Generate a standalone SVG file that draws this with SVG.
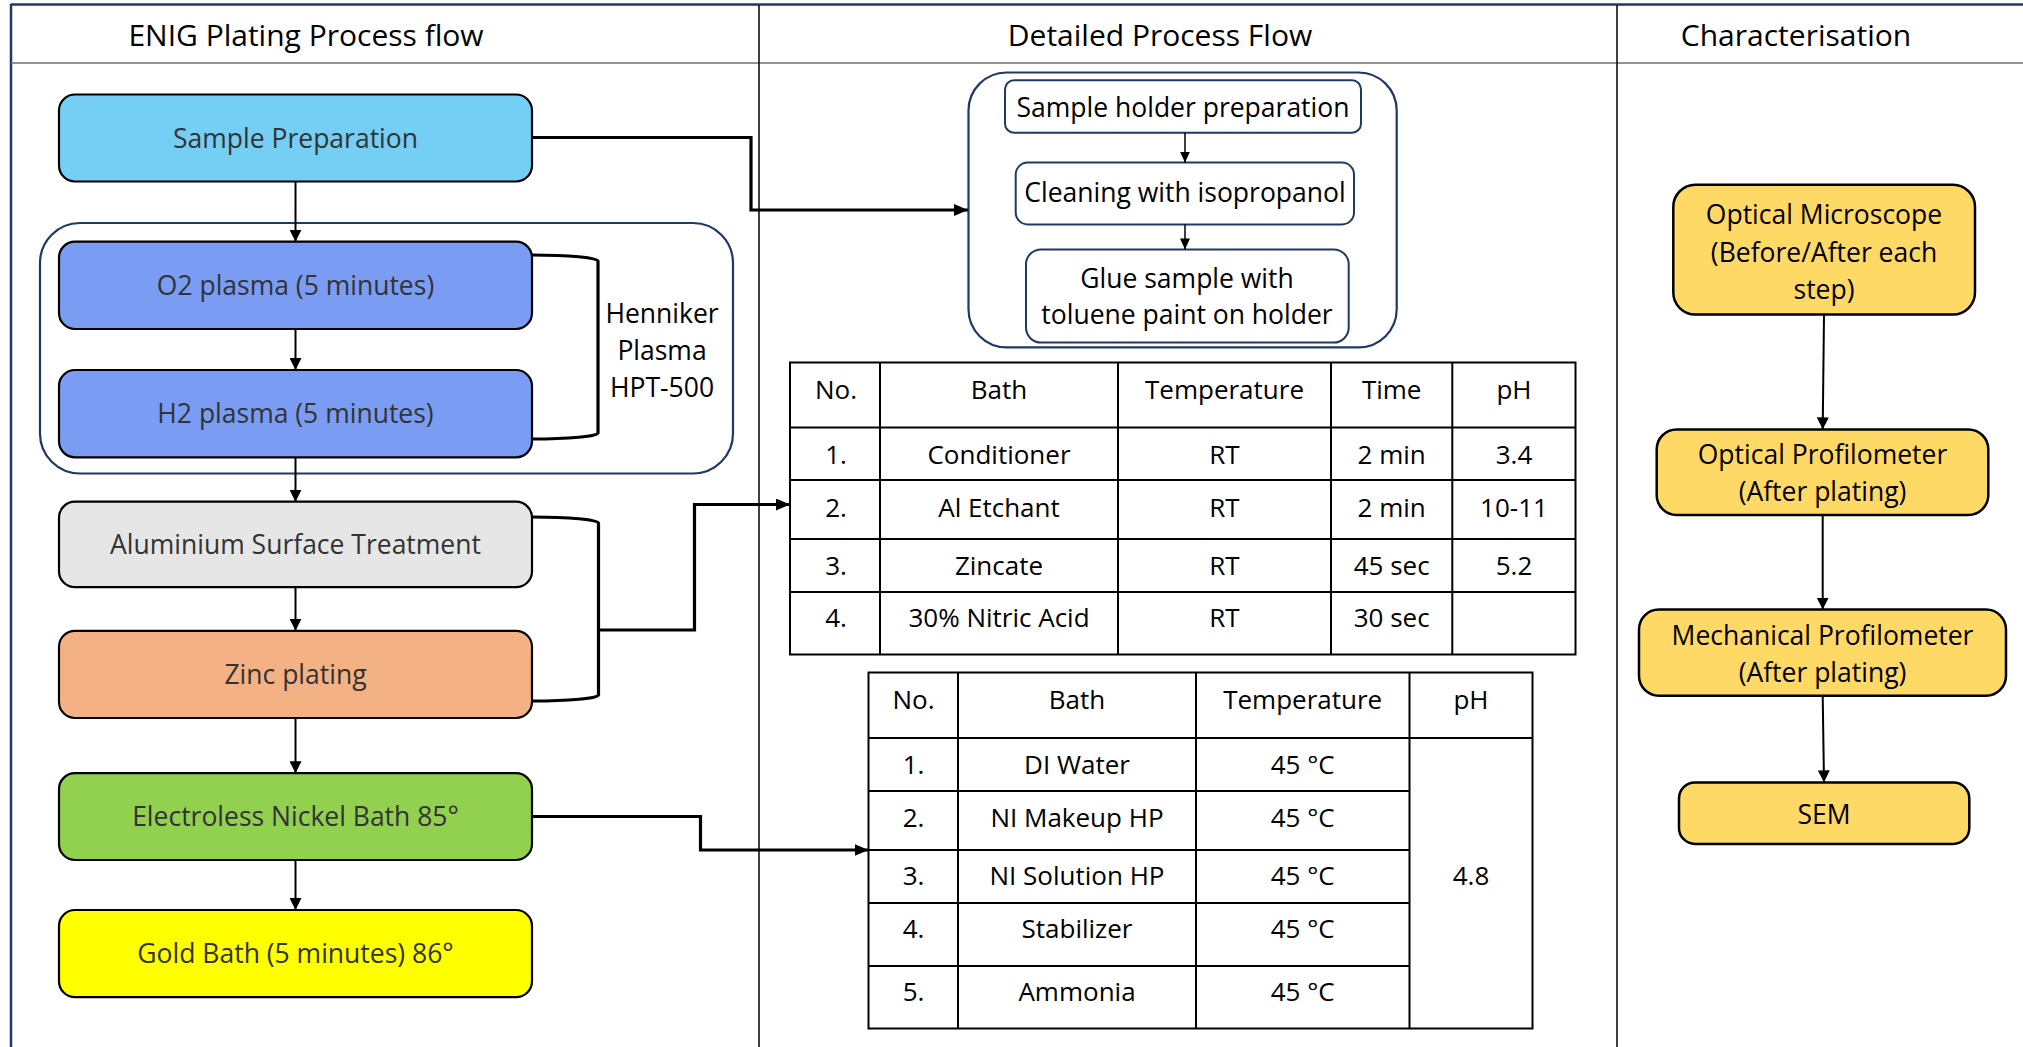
<svg xmlns="http://www.w3.org/2000/svg" width="2023" height="1047" viewBox="0 0 2023 1047">
<defs>
<style>
text{font-family:"Open Sans","Liberation Sans",sans-serif;text-anchor:middle;fill:#000}
.hd{font-size:30px}
.bx{font-size:26.5px;fill:#333}
.tb{font-size:26px}
.sm{font-size:26.5px}
.ch{font-size:26.5px}
.step{stroke:#000;stroke-width:2.2}
.grp{fill:none;stroke:#203864;stroke-width:2.2}
.dbox{fill:#fff;stroke:#203864;stroke-width:2}
.cbox{fill:#FFD966;stroke:#000;stroke-width:2.5}
.ln{fill:none;stroke:#000;stroke-width:2}
.thick{fill:none;stroke:#000;stroke-width:3.2}
.thin{fill:none;stroke:#000;stroke-width:1.5}
.grid{fill:none;stroke:#000;stroke-width:2}
</style>
<marker id="ah" viewBox="0 0 12 12" refX="12" refY="6" markerWidth="12" markerHeight="12" markerUnits="userSpaceOnUse" orient="auto"><path d="M0,0 L12,6 L0,12 z" fill="#000"/></marker>
<marker id="ahb" viewBox="0 0 14 12" refX="14" refY="6" markerWidth="14" markerHeight="12" markerUnits="userSpaceOnUse" orient="auto"><path d="M0,0 L14,6 L0,12 z" fill="#000"/></marker>
<marker id="ahs" viewBox="0 0 11 10" refX="11" refY="5" markerWidth="11" markerHeight="10" markerUnits="userSpaceOnUse" orient="auto"><path d="M0,0 L11,5 L0,10 z" fill="#000"/></marker>
</defs>
<rect width="2023" height="1047" fill="#fff"/>

<g id="frame">
<line x1="11" y1="4.5" x2="2023" y2="4.5" stroke="#203864" stroke-width="2.5"/>
<line x1="11" y1="4" x2="11" y2="1047" stroke="#203864" stroke-width="2.5"/>
<line x1="11" y1="63" x2="2023" y2="63" stroke="#6F6F6F" stroke-width="1.6"/>
<line x1="759" y1="5" x2="759" y2="1047" stroke="#000" stroke-width="1.5"/>
<line x1="1617" y1="5" x2="1617" y2="1047" stroke="#000" stroke-width="1.5"/>
<text class="hd" x="306" y="46">ENIG Plating Process flow</text>
<text class="hd" x="1160" y="46">Detailed Process Flow</text>
<text class="hd" x="1796" y="46">Characterisation</text>
</g>

<g id="plasma-group">
<rect class="grp" x="40" y="223" width="693" height="250.5" rx="40"/>
<text class="sm" x="662" y="323">Henniker</text>
<text class="sm" x="662" y="360">Plasma</text>
<text class="sm" x="662" y="397">HPT-500</text>
</g>

<g id="sample-preparation"><rect class="step" x="59" y="94.5" width="473" height="87" rx="16" fill="#75CEF3"/><text class="bx" x="295.5" y="147.5">Sample Preparation</text></g>
<g id="o2-plasma"><rect class="step" x="59" y="241.7" width="473" height="87.3" rx="16" fill="#7A9CF2"/><text class="bx" x="295.5" y="295">O2 plasma (5 minutes)</text></g>
<g id="h2-plasma"><rect class="step" x="59" y="370" width="473" height="87.3" rx="16" fill="#7A9CF2"/><text class="bx" x="295.5" y="423">H2 plasma (5 minutes)</text></g>
<g id="aluminium"><rect class="step" x="59" y="501.7" width="473" height="85.5" rx="16" fill="#E6E6E6"/><text class="bx" x="295.5" y="554">Aluminium Surface Treatment</text></g>
<g id="zinc"><rect class="step" x="59" y="630.8" width="473" height="87.2" rx="16" fill="#F4B183"/><text class="bx" x="295.5" y="684">Zinc plating</text></g>
<g id="nickel"><rect class="step" x="59" y="773.2" width="473" height="86.8" rx="16" fill="#92D050"/><text class="bx" x="295.5" y="826">Electroless Nickel Bath 85°</text></g>
<g id="gold"><rect class="step" x="59" y="910" width="473" height="87.2" rx="16" fill="#FFFF00"/><text class="bx" x="295.5" y="963">Gold Bath (5 minutes) 86°</text></g>

<g id="detailed-group">
<rect class="grp" x="968.5" y="72.5" width="428.2" height="274.8" rx="38"/>
</g>
<g id="holder-prep"><rect class="dbox" x="1005" y="80.3" width="356" height="52.4" rx="9"/><text class="sm" x="1183" y="116.5">Sample holder preparation</text></g>
<g id="cleaning"><rect class="dbox" x="1015.7" y="162.6" width="338.3" height="61.8" rx="12"/><text class="sm" x="1185" y="202">Cleaning with isopropanol</text></g>
<g id="glue"><rect class="dbox" x="1026" y="249.4" width="322.7" height="93.2" rx="15"/><text class="sm" x="1187" y="287.5">Glue sample with</text><text class="sm" x="1187" y="324">toluene paint on holder</text></g>

<g id="table-1">
<rect class="grid" x="790" y="362.5" width="785.5" height="292"/>
<path class="grid" d="M880,362.5V654.5 M1118,362.5V654.5 M1331,362.5V654.5 M1452.3,362.5V654.5 M790,427.5H1575.5 M790,480H1575.5 M790,539H1575.5 M790,592H1575.5"/>
<g class="tb">
<text x="836" y="398.5">No.</text><text x="999" y="398.5">Bath</text><text x="1224.5" y="398.5">Temperature</text><text x="1391.7" y="398.5">Time</text><text x="1514" y="398.5">pH</text>
<text x="836" y="463.5">1.</text><text x="999" y="463.5">Conditioner</text><text x="1224.5" y="463.5">RT</text><text x="1391.7" y="463.5">2 min</text><text x="1514" y="463.5">3.4</text>
<text x="836" y="517">2.</text><text x="999" y="517">Al Etchant</text><text x="1224.5" y="517">RT</text><text x="1391.7" y="517">2 min</text><text x="1514" y="517">10-11</text>
<text x="836" y="574.5">3.</text><text x="999" y="574.5">Zincate</text><text x="1224.5" y="574.5">RT</text><text x="1391.7" y="574.5">45 sec</text><text x="1514" y="574.5">5.2</text>
<text x="836" y="627">4.</text><text x="999" y="627">30% Nitric Acid</text><text x="1224.5" y="627">RT</text><text x="1391.7" y="627">30 sec</text>
</g>
</g>

<g id="table-2">
<rect class="grid" x="868.5" y="672.5" width="664" height="356"/>
<path class="grid" d="M958,672.5V1028.5 M1196,672.5V1028.5 M1409.5,672.5V1028.5 M868.5,738H1532.5 M868.5,791H1409.5 M868.5,850H1409.5 M868.5,903H1409.5 M868.5,966H1409.5"/>
<g class="tb">
<text x="913.5" y="709">No.</text><text x="1077" y="709">Bath</text><text x="1302.7" y="709">Temperature</text><text x="1471" y="709">pH</text>
<text x="913.5" y="773.5">1.</text><text x="1077" y="773.5">DI Water</text><text x="1302.7" y="773.5">45 °C</text>
<text x="913.5" y="826.5">2.</text><text x="1077" y="826.5">NI Makeup HP</text><text x="1302.7" y="826.5">45 °C</text>
<text x="913.5" y="885">3.</text><text x="1077" y="885">NI Solution HP</text><text x="1302.7" y="885">45 °C</text>
<text x="913.5" y="937.5">4.</text><text x="1077" y="937.5">Stabilizer</text><text x="1302.7" y="937.5">45 °C</text>
<text x="913.5" y="1001">5.</text><text x="1077" y="1001">Ammonia</text><text x="1302.7" y="1001">45 °C</text>
<text x="1471" y="885">4.8</text>
</g>
</g>

<g id="optical-microscope"><rect class="cbox" x="1673.3" y="184.8" width="301.7" height="129.8" rx="22"/><text class="ch" x="1824" y="223.5">Optical Microscope</text><text class="ch" x="1824" y="261.5">(Before/After each</text><text class="ch" x="1824" y="299">step)</text></g>
<g id="optical-profilometer"><rect class="cbox" x="1656.7" y="429.4" width="331.6" height="85.6" rx="20"/><text class="ch" x="1822.5" y="464">Optical Profilometer</text><text class="ch" x="1822.5" y="501">(After plating)</text></g>
<g id="mechanical-profilometer"><rect class="cbox" x="1639" y="609.6" width="367" height="86.2" rx="20"/><text class="ch" x="1822.5" y="645">Mechanical Profilometer</text><text class="ch" x="1822.5" y="682">(After plating)</text></g>
<g id="sem"><rect class="cbox" x="1679" y="782.4" width="290.3" height="61.5" rx="16"/><text class="ch" x="1824" y="823.5">SEM</text></g>

<g id="connectors">
<line class="ln" x1="295.5" y1="181.5" x2="295.5" y2="241.7" marker-end="url(#ah)"/>
<line class="ln" x1="295.5" y1="329" x2="295.5" y2="370" marker-end="url(#ah)"/>
<line class="ln" x1="295.5" y1="457.3" x2="295.5" y2="501.7" marker-end="url(#ah)"/>
<line class="ln" x1="295.5" y1="587.2" x2="295.5" y2="630.8" marker-end="url(#ah)"/>
<line class="ln" x1="295.5" y1="718" x2="295.5" y2="773.2" marker-end="url(#ah)"/>
<line class="ln" x1="295.5" y1="860" x2="295.5" y2="910" marker-end="url(#ah)"/>
<path class="thick" d="M532,255 A66,6 0 0 1 598,261 V433 A66,6 0 0 1 532,439"/>
<path class="thick" d="M532,517 A66,6 0 0 1 598.5,523 V695 A66,6 0 0 1 532,701"/>
<path class="thick" d="M532,137.5 H751 V210 H968" marker-end="url(#ahb)"/>
<path class="thick" d="M598.5,630 H694.5 V504.5 H790" marker-end="url(#ahb)"/>
<path class="thick" d="M532,816.5 H700.5 V850 H868.5" marker-end="url(#ahb)"/>
<line class="thin" x1="1185" y1="132.7" x2="1185" y2="162.6" marker-end="url(#ahs)"/>
<line class="thin" x1="1185" y1="224.4" x2="1185" y2="249.4" marker-end="url(#ahs)"/>
<line class="ln" stroke-width="2.5" x1="1824" y1="314.6" x2="1822.7" y2="429.4" marker-end="url(#ah)"/>
<line class="ln" stroke-width="2.5" x1="1822.7" y1="515" x2="1822.7" y2="609.6" marker-end="url(#ah)"/>
<line class="ln" stroke-width="2.5" x1="1822.7" y1="695.8" x2="1824" y2="782.4" marker-end="url(#ah)"/>
</g>
</svg>
